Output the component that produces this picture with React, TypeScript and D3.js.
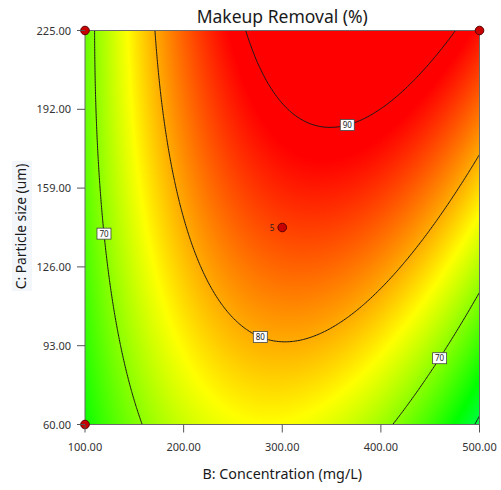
import React, { useMemo } from "react";
import * as d3 from "d3";

// Quadratic response model in coded units:
// x = (B - 300) / 200, z = (C - 142.5) / 82.5
const modelTerms = ["Intercept", "B", "C", "BC", "B^2", "C^2"];
const modelCoefficients = [85.25, 3.875, 8.325, 6.015, -14.27, -1.25];

const concentrationDomain = [100, 500];
const particleDomain = [60, 225];
const concentrationTicks = [100, 200, 300, 400, 500];
const particleTicks = [60, 93, 126, 159, 192, 225];

const contourLevels = [60, 70, 80, 90];

// Contour label anchors (approximate B, C, projected onto the isoline)
const labelLevels = [70, 80, 90, 70];
const labelB = [121, 280, 365, 455];
const labelC = [140, 99, 187, 89];

// Design points and replicate counts
const designB = [100, 500, 100, 300];
const designC = [225, 225, 60, 142.5];
const designRuns = [1, 1, 1, 5];

// Colour ramp stops (response values)
const rampValues = [37.4, 50.2, 63, 75.8, 88.6];
const rampColors = ["#0000ff", "#00ffff", "#00ff00", "#ffff00", "#ff0000"];

const W = 501;
const H = 490;
const plot = { left: 85, right: 479.5, top: 30.5, bottom: 424.5 };

function predict(b: number, c: number): number {
  const x = (b - 300) / 200;
  const z = (c - 142.5) / 82.5;
  const basis = [1, x, z, x * z, x * x, z * z];
  return d3.sum(basis, (v, i) => v * modelCoefficients[i]);
}

function gradient(b: number, c: number): [number, number] {
  const h = 0.01;
  return [
    (predict(b + h, c) - predict(b - h, c)) / (2 * h),
    (predict(b, c + h) - predict(b, c - h)) / (2 * h),
  ];
}

// Move a point onto the isoline of a given level (Newton steps along the gradient)
function projectToLevel(b: number, c: number, level: number): [number, number] {
  for (let k = 0; k < 30; k++) {
    const f = predict(b, c) - level;
    const [gb, gc] = gradient(b, c);
    const gbs = gb * 200;
    const gcs = gc * 82.5;
    const n2 = gbs * gbs + gcs * gcs;
    if (n2 === 0) break;
    b -= (f * gbs / n2) * 200;
    c -= (f * gcs / n2) * 82.5;
  }
  return [b, c];
}

export default function App() {
  const x = d3.scaleLinear().domain(concentrationDomain).range([plot.left, plot.right]);
  const y = d3.scaleLinear().domain(particleDomain).range([plot.bottom, plot.top]);
  const color = d3
    .scaleLinear<string>()
    .domain(rampValues)
    .range(rampColors)
    .interpolate(d3.interpolateRgb)
    .clamp(true);

  const pw = Math.round(plot.right - plot.left);
  const ph = Math.round(plot.bottom - plot.top);

  const heatmap = useMemo(() => {
    const canvas = document.createElement("canvas");
    canvas.width = pw;
    canvas.height = ph;
    const ctx = canvas.getContext("2d");
    if (!ctx) return "";
    const img = ctx.createImageData(pw, ph);
    for (let j = 0; j < ph; j++) {
      const c = y.invert(plot.top + (j + 0.5) * (plot.bottom - plot.top) / ph);
      for (let i = 0; i < pw; i++) {
        const b = x.invert(plot.left + (i + 0.5) * (plot.right - plot.left) / pw);
        const col = d3.rgb(color(predict(b, c)));
        const k = (j * pw + i) * 4;
        img.data[k] = col.r;
        img.data[k + 1] = col.g;
        img.data[k + 2] = col.b;
        img.data[k + 3] = 255;
      }
    }
    ctx.putImageData(img, 0, 0);
    return canvas.toDataURL();
  }, []);

  // Isolines from a grid that extends a little past the plot on every side
  const contourPaths = useMemo(() => {
    const n = 260;
    const pad = 6;
    const bLo = concentrationDomain[0] - pad * 400 / n;
    const bHi = concentrationDomain[1] + pad * 400 / n;
    const cLo = particleDomain[0] - pad * 165 / n;
    const cHi = particleDomain[1] + pad * 165 / n;
    const gb = d3.scaleLinear().domain([0.5, n - 0.5]).range([bLo, bHi]);
    const gc = d3.scaleLinear().domain([0.5, n - 0.5]).range([cHi, cLo]);
    const values = new Array(n * n);
    for (let j = 0; j < n; j++) {
      for (let i = 0; i < n; i++) {
        values[j * n + i] = predict(gb(i + 0.5), gc(j + 0.5));
      }
    }
    const contours = d3.contours().size([n, n]).thresholds(contourLevels)(values);
    const proj = d3.geoTransform({
      point(u: number, v: number) {
        this.stream.point(x(gb(u)), y(gc(v)));
      },
    });
    const path = d3.geoPath(proj);
    return contours.map((cg) => ({ level: cg.value, d: path(cg as any) || "" }));
  }, []);

  const labels = labelLevels.map((lv, i) => {
    const [b, c] = projectToLevel(labelB[i], labelC[i], lv);
    return { level: lv, px: x(b), py: y(c) };
  });

  const font = "'Noto Sans', 'Open Sans', sans-serif";

  return (
    <svg
      width={W}
      height={H}
      style={{ position: "absolute", left: 0, top: 0, background: "#fff" }}
      fontFamily={font}
    >
      <defs>
        <clipPath id="plot-clip">
          <rect x={plot.left} y={plot.top} width={plot.right - plot.left} height={plot.bottom - plot.top} />
        </clipPath>
      </defs>

      <image
        href={heatmap}
        x={plot.left}
        y={plot.top}
        width={plot.right - plot.left}
        height={plot.bottom - plot.top}
        preserveAspectRatio="none"
      />

      <g clipPath="url(#plot-clip)">
        {contourPaths.map((cp) => (
          <path key={cp.level} d={cp.d} fill="none" stroke="#1a1a1a" strokeWidth={1} />
        ))}
      </g>

      <rect
        x={plot.left}
        y={plot.top}
        width={plot.right - plot.left}
        height={plot.bottom - plot.top}
        fill="none"
        stroke="#6a6a6a"
        strokeWidth={1}
      />

      {/* contour labels */}
      {labels.map((l, i) => (
        <g key={i} transform={`translate(${l.px},${l.py})`}>
          <rect x={-7} y={-5.5} width={14} height={11} fill="#fff" stroke="#444" strokeWidth={0.8} />
          <text textAnchor="middle" y={3} fontSize={8} fill="#222">
            {l.level}
          </text>
        </g>
      ))}

      {/* design points */}
      {designB.map((b, i) => (
        <g key={i}>
          <circle cx={x(b)} cy={y(designC[i])} r={4.3} fill="#c80000" stroke="#5a0000" strokeWidth={1} />
          {designRuns[i] > 1 && (
            <text x={x(b) - 8} y={y(designC[i]) + 3} textAnchor="end" fontSize={8} fill="#222">
              {designRuns[i]}
            </text>
          )}
        </g>
      ))}

      {/* x axis */}
      {concentrationTicks.map((t) => (
        <g key={t}>
          <line x1={x(t)} x2={x(t)} y1={plot.bottom} y2={plot.bottom + 8} stroke="#555" />
          <text x={x(t)} y={451} textAnchor="middle" fontSize={11} fill="#333">
            {t.toFixed(2)}
          </text>
        </g>
      ))}

      {/* y axis */}
      {particleTicks.map((t) => (
        <g key={t}>
          <line x1={plot.left - 8} x2={plot.left} y1={y(t)} y2={y(t)} stroke="#555" />
          <text x={71} y={y(t) + 4} textAnchor="end" fontSize={11} fill="#333">
            {t.toFixed(2)}
          </text>
        </g>
      ))}

      <text x={(plot.left + plot.right) / 2} y={23} textAnchor="middle" fontSize={17.5} fill="#1a1a1a">
        Makeup Removal (%)
      </text>
      <text x={(plot.left + plot.right) / 2} y={478.5} textAnchor="middle" fontSize={14.3} fill="#1a1a1a">
        B: Concentration (mg/L)
      </text>
      <rect x={12} y={161} width={20} height={130} fill="#f3f7fc" />
      <text
        transform={`translate(25.5,226.5) rotate(-90)`}
        textAnchor="middle"
        fontSize={13.8}
        fill="#1a1a1a"
      >
        C: Particle size (um)
      </text>
    </svg>
  );
}
